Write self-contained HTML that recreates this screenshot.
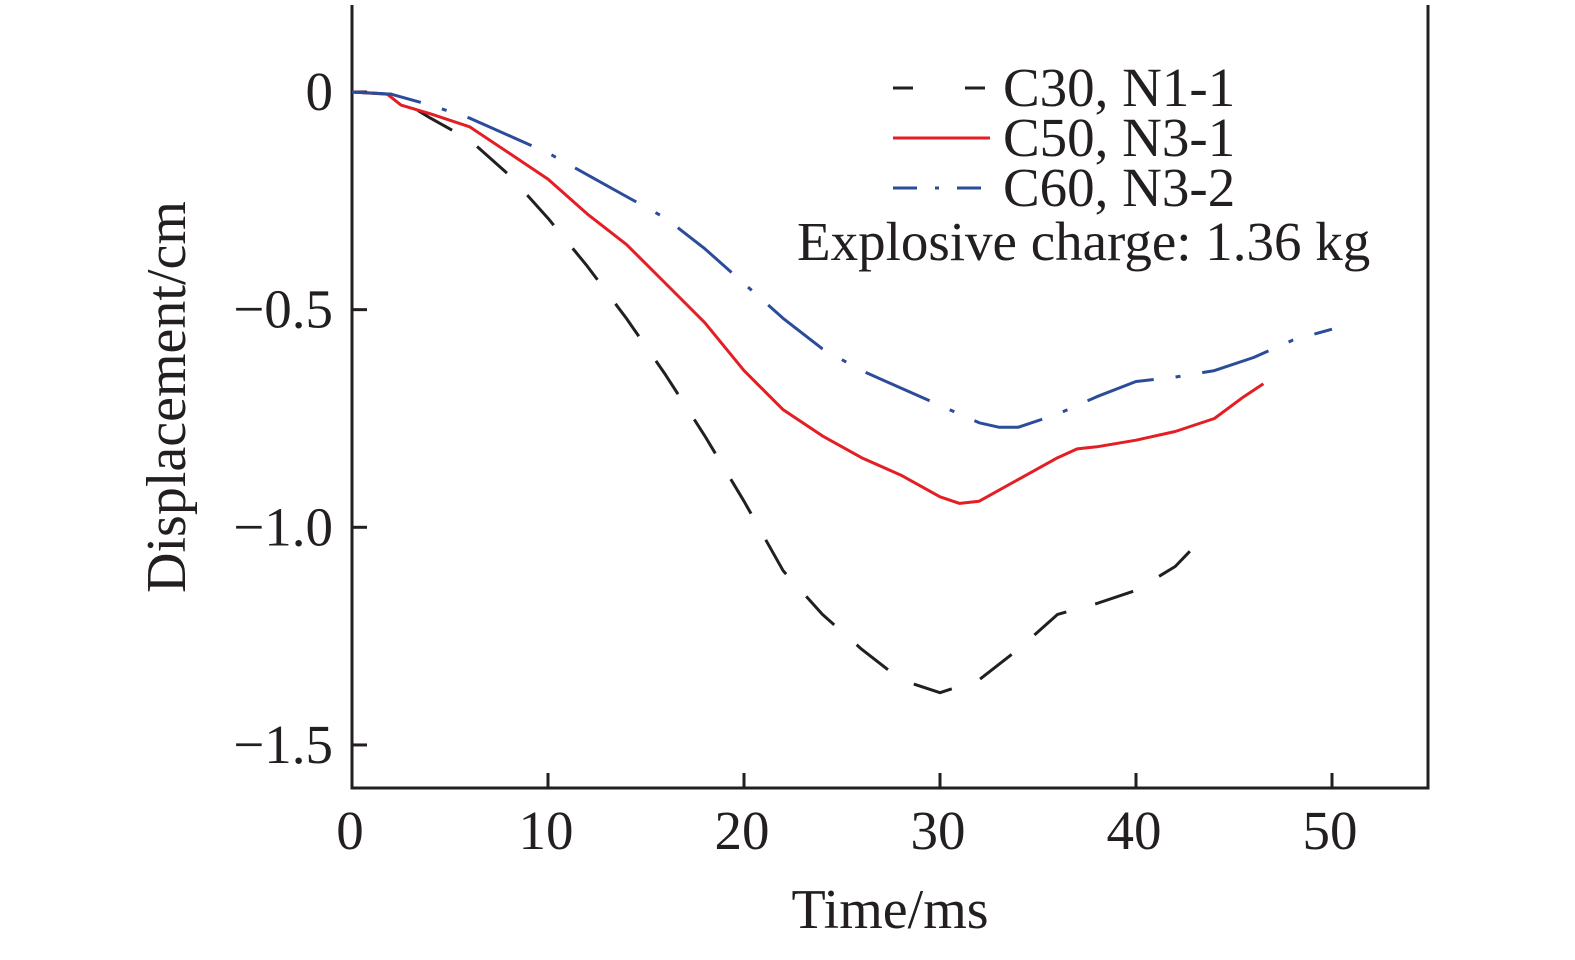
<!DOCTYPE html>
<html><head><meta charset="utf-8"><style>
html,body{margin:0;padding:0;background:#fff}
svg text{font-family:"Liberation Serif",serif;fill:#231f20}
</style></head><body>
<svg width="1575" height="955" viewBox="0 0 1575 955">
<g id="axes"></g>
<g id="series"></g>
<g>
<line x1="893" y1="88" x2="990" y2="88" stroke="#231f20" stroke-width="3" stroke-dasharray="20,52"/>
<text x="1003" y="106" font-size="55">C30, N1-1</text>
<line x1="893" y1="138" x2="990" y2="138" stroke="#e31e24" stroke-width="3"/>
<text x="1003" y="156" font-size="55">C50, N3-1</text>
<line x1="893" y1="188" x2="990" y2="188" stroke="#2b4c9b" stroke-width="3" stroke-dasharray="24,18,4,18"/>
<text x="1003" y="206" font-size="55">C60, N3-2</text>
<text x="797" y="260" font-size="55">Explosive charge: 1.36 kg</text>
</g>
<text x="890" y="928" font-size="56" text-anchor="middle">Time/ms</text>
<text transform="translate(185,397) rotate(-90)" font-size="56" text-anchor="middle">Displacement/cm</text>
</svg>
<script>
const xTicks=[0,10,20,30,40,50];
const yTicks=[0,-0.5,-1.0,-1.5];
const yTickLabels=["0","\u22120.5","\u22121.0","\u22121.5"];
const c30T=[0,2,4,6,8,10,12,14,16,18,20,22,24,26,28,30,32,34,36,38,40,42,43.5];
const c30V=[0,-0.005,-0.06,-0.11,-0.19,-0.29,-0.40,-0.52,-0.65,-0.79,-0.94,-1.10,-1.20,-1.28,-1.35,-1.38,-1.35,-1.28,-1.20,-1.175,-1.145,-1.09,-1.02];
const c50T=[0,1.8,2.5,4,6,8,10,12,14,16,18,20,22,24,26,28,30,31,32,34,36,37,38,40,42,44,45.5,46.5];
const c50V=[0,-0.005,-0.03,-0.05,-0.08,-0.14,-0.2,-0.28,-0.35,-0.44,-0.53,-0.64,-0.73,-0.79,-0.84,-0.88,-0.93,-0.945,-0.94,-0.89,-0.84,-0.82,-0.815,-0.80,-0.78,-0.75,-0.70,-0.67];
const c60T=[0,2,4,6,8,10,12,14,16,18,20,22,24,26,28,30,32,33,34,36,38,40,42,44,46,48,50];
const c60V=[0,-0.005,-0.03,-0.06,-0.1,-0.14,-0.19,-0.24,-0.29,-0.36,-0.44,-0.52,-0.59,-0.64,-0.68,-0.72,-0.76,-0.77,-0.77,-0.74,-0.70,-0.665,-0.655,-0.64,-0.61,-0.57,-0.545];
const X0=352,X1=1428,Y0=92,YB=788,YT=5;
const x=t=>X0+t*19.6;
const y=v=>Y0-v*435.3;
const NS="http://www.w3.org/2000/svg";
const axes=document.getElementById('axes');
function mk(tag,attrs,parent){const e=document.createElementNS(NS,tag);for(const k in attrs)e.setAttribute(k,attrs[k]);parent.appendChild(e);return e;}
const frame=mk('path',{d:`M${X0},${YT}V${YB}H${X1}V${YT}`,fill:'none',stroke:'#231f20','stroke-width':3},axes);


xTicks.forEach(t=>{
  if(t>0){const l=mk('line',{x1:x(t),y1:YB,x2:x(t),y2:YB-15,stroke:'#231f20','stroke-width':3},axes);
  
  }
  const tx=mk('text',{x:x(t)-2,y:849,'font-size':55,'text-anchor':'middle'},axes);tx.textContent=t;
  
  
});
yTicks.forEach((v,i)=>{
  const l=mk('line',{x1:X0,y1:y(v),x2:X0+15,y2:y(v),stroke:'#231f20','stroke-width':3},axes);
  
  
  const tx=mk('text',{x:333,y:y(v)+18,'font-size':55,'text-anchor':'end'},axes);tx.textContent=yTickLabels[i];
  
  
});
const ser=document.getElementById('series');
function line(T,V,attrs,name){
  const d=T.map((t,i)=>(i?'L':'M')+x(t).toFixed(1)+','+y(V[i]).toFixed(1)).join('');
  const p=mk('path',Object.assign({d,fill:'none','stroke-width':3,'stroke-linejoin':'round'},attrs),ser);
  
  
}
line(c30T,c30V,{stroke:'#231f20','stroke-dasharray':'40,30'},'series-c30-n1-1');
line(c50T,c50V,{stroke:'#e31e24'},'series-c50-n3-1');
line(c60T,c60V,{stroke:'#2b4c9b','stroke-dasharray':'70,22,5,22'},'series-c60-n3-2');
</script>
</body></html>
